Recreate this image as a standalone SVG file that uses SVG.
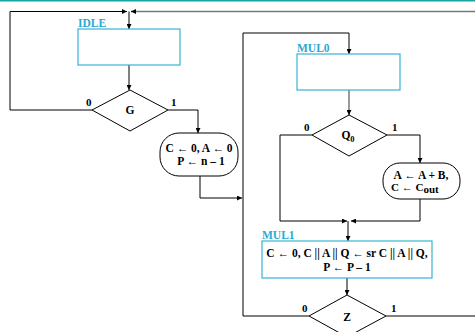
<svg xmlns="http://www.w3.org/2000/svg" width="475" height="332" viewBox="0 0 475 332">
<defs>
<marker id="ah" viewBox="0 0 6 6" refX="6" refY="3" markerWidth="5" markerHeight="5" orient="auto" markerUnits="userSpaceOnUse">
<path d="M0,0 L6,3 L0,6 z" fill="#000"/>
</marker>
</defs>
<style>
.ln{fill:none;stroke:#000;stroke-width:1}
.gl{fill:none;stroke:#777;stroke-width:1.5}
.box{fill:#fff;stroke:#35b3d6;stroke-width:1.2}
.dia{fill:#fff;stroke:#000;stroke-width:1}
.rb{fill:#fff;stroke:#000;stroke-width:1}
.lab{font-family:"Liberation Serif",serif;font-weight:bold;font-size:11.5px;fill:#2aa9d3}
.t{font-family:"Liberation Serif",serif;font-weight:bold;font-size:11px;fill:#000}
.tc{font-family:"Liberation Serif",serif;font-weight:bold;font-size:11.5px;fill:#000;text-anchor:middle}
</style>
<rect x="0" y="0" width="475" height="332" fill="#fff"/>
<line x1="0" y1="0.8" x2="475" y2="0.8" stroke="#1aa3a3" stroke-width="1.6"/>
<g id="connectors">
<path class="gl" d="M475,11.5 L131,11.5"/>
<path class="ln" d="M135,11.5 L131,11.5" marker-end="url(#ah)"/>
<path class="ln" d="M92,110 L10,110 L10,11.5 L127,11.5" marker-end="url(#ah)"/>
<path class="ln" d="M129,11.5 L129,29" marker-end="url(#ah)"/>
<path class="ln" d="M129,65 L129,90" marker-end="url(#ah)"/>
<path class="ln" d="M168,110 L198,110 L198,133" marker-end="url(#ah)"/>
<path class="ln" d="M200,176 L200,198 L242,198" marker-end="url(#ah)"/>
<path class="ln" d="M309,316 L243,316 L243,33 L349,33 L349,54" marker-end="url(#ah)"/>
<path class="gl" d="M349,90 L349,112"/>
<path class="ln" d="M349,110 L349,115" marker-end="url(#ah)"/>
<path class="ln" d="M312,135 L280,135 L280,221 L347,221" marker-end="url(#ah)"/>
<path class="ln" d="M387,135 L420,135 L420,163" marker-end="url(#ah)"/>
<path class="ln" d="M420,199 L420,221 L351,221" marker-end="url(#ah)"/>
<path class="ln" d="M348,221 L348,241" marker-end="url(#ah)"/>
<path class="ln" d="M347,278 L347,295" marker-end="url(#ah)"/>
<path class="ln" d="M386,316 L475,316"/>
</g>
<g id="IDLE">
<rect class="box" x="78" y="29" width="102" height="36"/>
<text class="lab" x="78" y="27">IDLE</text>
</g>
<g id="G">
<polygon class="dia" points="130,90 168,110 130,131 92,110"/>
<text class="tc" x="130" y="114">G</text>
<text class="t" x="86" y="106">0</text>
<text class="t" x="171" y="106">1</text>
</g>
<g id="init">
<rect class="rb" x="160" y="133" width="78" height="43" rx="19" ry="19"/>
<text class="tc" x="199" y="152">C ← 0, A ← 0</text>
<text class="tc" x="201" y="165">P ← n – 1</text>
</g>
<g id="MUL0">
<rect class="box" x="297" y="54" width="103" height="36"/>
<text class="lab" x="297" y="52">MUL0</text>
</g>
<g id="Q0">
<polygon class="dia" points="349,115 387,135 349,156 312,135"/>
<text class="tc" x="348" y="139">Q<tspan font-size="8.5" dy="3">0</tspan></text>
<text class="t" x="304" y="131">0</text>
<text class="t" x="392" y="131">1</text>
</g>
<g id="add">
<rect class="rb" x="383" y="163" width="77" height="36" rx="17" ry="17"/>
<text class="tc" x="421" y="179">A ← A + B,</text>
<text class="t" x="391" y="191">C ← C<tspan font-size="11" dy="2">out</tspan></text>
</g>
<g id="MUL1">
<rect class="box" x="262" y="241" width="170" height="37"/>
<text class="lab" x="262" y="239">MUL1</text>
<text class="tc" x="347" y="257">C ← 0, C || A || Q ← sr C || A || Q,</text>
<text class="tc" x="347" y="271">P ← P – 1</text>
</g>
<g id="Z">
<polygon class="dia" points="347,295 386,316 347,337 309,316"/>
<text class="tc" x="347" y="321">Z</text>
<text class="t" x="302" y="312">0</text>
<text class="t" x="391" y="312">1</text>
</g>
</svg>
